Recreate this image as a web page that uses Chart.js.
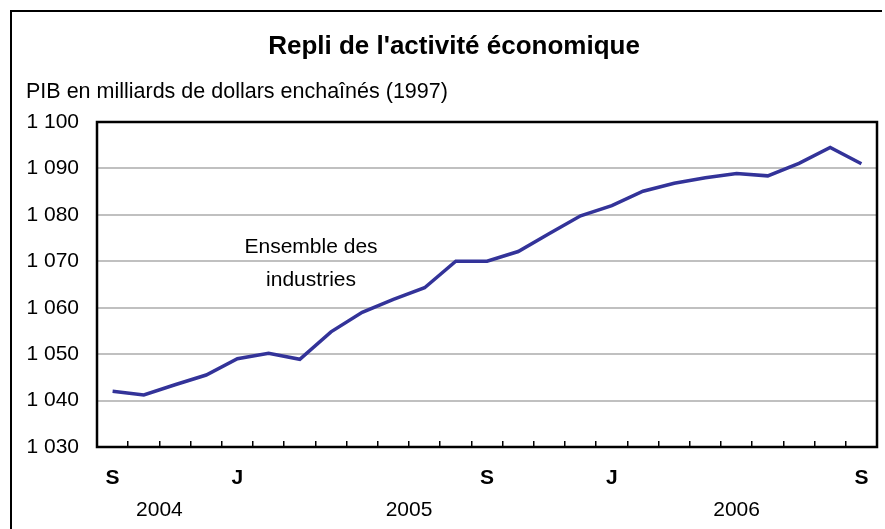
<!DOCTYPE html>
<html>
<head>
<meta charset="utf-8">
<script src="https://cdn.jsdelivr.net/npm/chart.js@4.4.1/dist/chart.umd.min.js"></script>
<style>
  html, body { margin: 0; padding: 0; background: #fff; }
  #wrap { width: 885px; height: 529px; position: relative; }
</style>
</head>
<body>
<div id="wrap"><canvas id="c" width="885" height="529"></canvas></div>
<script>
// ---- Data ----
const months = ['2004-09','2004-10','2004-11','2004-12',
  '2005-01','2005-02','2005-03','2005-04','2005-05','2005-06','2005-07','2005-08','2005-09','2005-10','2005-11','2005-12',
  '2006-01','2006-02','2006-03','2006-04','2006-05','2006-06','2006-07','2006-08','2006-09'];
const gdp = [1042.0, 1041.2, 1043.4, 1045.5, 1049.0, 1050.2, 1048.9, 1054.8, 1059.0, 1061.8, 1064.3, 1070.0, 1070.0,
  1072.1, 1076.0, 1079.8, 1082.0, 1085.1, 1086.8, 1088.0, 1088.9, 1088.4, 1091.1, 1094.5, 1091.0];
const monthLetters = { '09': 'S', '01': 'J' };
const years = ['2004', '2005', '2006'];
const yTicks = [1030, 1040, 1050, 1060, 1070, 1080, 1090, 1100];
const title = "Repli de l'activité économique";
const subtitle = 'PIB en milliards de dollars enchaînés (1997)';
const seriesLabel = ['Ensemble des', 'industries'];

// year label positions: midpoint of that year's months on the category axis
const yearMid = years.map(y => {
  const idx = months.map((m, i) => m.startsWith(y) ? i : -1).filter(i => i >= 0);
  return (idx[0] + idx[idx.length - 1]) / 2;
});

const FONT = "'Liberation Sans', Arial, sans-serif";

const decor = {
  id: 'decor',
  beforeDraw(chart) {
    const ctx = chart.ctx;
    ctx.save();
    ctx.fillStyle = '#fff';
    ctx.fillRect(0, 0, chart.width, chart.height);
    ctx.strokeStyle = '#000';
    ctx.lineWidth = 2;
    ctx.beginPath();
    ctx.moveTo(11, 529);
    ctx.lineTo(11, 11);
    ctx.lineTo(882, 11);
    ctx.stroke();
    ctx.fillStyle = '#000';
    ctx.textBaseline = 'middle';
    ctx.textAlign = 'center';
    ctx.font = 'bold 26px ' + FONT;
    ctx.fillText(title, 454, 47);
    ctx.textAlign = 'left';
    ctx.font = '21.5px ' + FONT;
    ctx.fillText(subtitle, 26, 92);
    ctx.restore();
  },
  afterDatasetsDraw(chart) {
    const ctx = chart.ctx;
    const a = chart.chartArea;
    const xs = chart.scales.x, ys = chart.scales.y;
    ctx.save();
    ctx.strokeStyle = '#000';
    ctx.lineWidth = 2.5;
    ctx.strokeRect(a.left, a.top, a.right - a.left, a.bottom - a.top);
    ctx.fillStyle = '#000';
    ctx.font = '21px ' + FONT;
    ctx.textAlign = 'center';
    ctx.textBaseline = 'middle';
    ctx.fillText(seriesLabel[0], xs.getPixelForValue(6.36), ys.getPixelForValue(1073.0));
    ctx.fillText(seriesLabel[1], xs.getPixelForValue(6.36), ys.getPixelForValue(1065.9));
    ctx.restore();
  }
};

new Chart(document.getElementById('c'), {
  type: 'line',
  data: {
    labels: months,
    datasets: [{
      label: 'Ensemble des industries',
      data: gdp,
      borderColor: '#333399',
      borderWidth: 3.5,
      pointRadius: 0,
      tension: 0,
      fill: false
    }]
  },
  options: {
    responsive: false,
    animation: false,
    devicePixelRatio: 1,
    layout: { padding: { top: 122, left: 26, right: 8, bottom: 8 } },
    plugins: { legend: { display: false }, tooltip: { enabled: false }, title: { display: false } },
    scales: {
      x: {
        type: 'category',
        offset: true,
        weight: 0,
        grid: { display: true, offset: true, drawOnChartArea: false, drawTicks: true, tickLength: -6, color: '#000', lineWidth: 1.5 },
        border: { display: false },
        afterFit: (s) => { s.height = 40; s.paddingLeft = 0; s.paddingRight = 0; },
        ticks: {
          autoSkip: false, maxRotation: 0, minRotation: 0, padding: 25,
          color: '#000',
          font: { family: FONT, size: 21, weight: 'bold' },
          callback: (v, i) => monthLetters[months[i].slice(5)] || ''
        }
      },
      x2: {
        type: 'linear',
        position: 'bottom',
        weight: 1,
        min: -0.5,
        max: months.length - 0.5,
        grid: { display: false, drawTicks: false },
        border: { display: false },
        afterBuildTicks: (axis) => { axis.ticks = yearMid.map(v => ({ value: v })); },
        afterFit: (s) => { s.height = 34; s.paddingLeft = 0; s.paddingRight = 0; },
        ticks: {
          autoSkip: false, maxRotation: 0, padding: 11,
          color: '#000',
          font: { family: FONT, size: 21 },
          callback: (v) => years[yearMid.indexOf(v)]
        }
      },
      y: {
        min: 1030,
        max: 1100,
        afterBuildTicks: (axis) => { axis.ticks = yTicks.map(v => ({ value: v })); },
        afterFit: (s) => { s.width = 71; s.paddingTop = 0; s.paddingBottom = 0; },
        grid: { color: '#c0c0c0', lineWidth: 2, drawTicks: false },
        border: { display: false },
        ticks: {
          padding: 18,
          color: '#000',
          font: { family: FONT, size: 21 },
          callback: (v) => String(v).replace(/\B(?=(\d{3})+(?!\d))/g, ' ')
        }
      }
    }
  },
  plugins: [decor]
});
</script>
</body>
</html>
